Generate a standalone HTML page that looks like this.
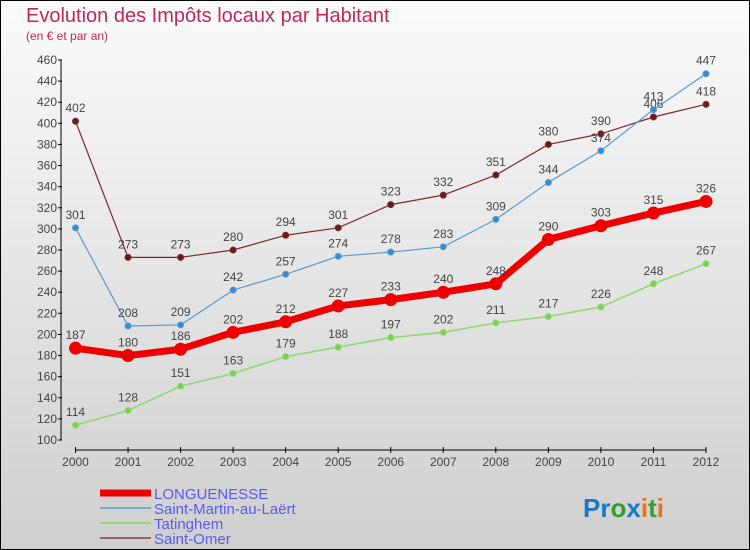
<!DOCTYPE html>
<html><head><meta charset="utf-8"><style>
body{margin:0;}
#wrap{position:relative;width:750px;height:550px;box-sizing:border-box;border:1px solid #000;background:linear-gradient(#fbfbfb,#cfcfcf);font-family:"Liberation Sans",sans-serif;overflow:hidden}
</style></head><body>
<div id="wrap">
<svg id="chart" width="748" height="548" viewBox="1 1 748 548">
<text x="26" y="22" font-size="20" fill="#c0285a">Evolution des Impôts locaux par Habitant</text>
<text x="26" y="40" font-size="12" fill="#c0285a">(en € et par an)</text>
<g id="axes"></g><g id="series"></g>
<g>
<line x1="100" y1="493" x2="151" y2="493" stroke="#e00" stroke-width="7"/>
<text x="154" y="499" font-size="15" fill="#5a5af0">LONGUENESSE</text>
<line x1="100" y1="508" x2="151" y2="508" stroke="#7aaad0" stroke-width="2"/>
<text x="154" y="514" font-size="15" fill="#5a5af0">Saint-Martin-au-Laërt</text>
<line x1="100" y1="523" x2="151" y2="523" stroke="#90d870" stroke-width="2"/>
<text x="154" y="529" font-size="15" fill="#5a5af0">Tatinghem</text>
<line x1="100" y1="538" x2="151" y2="538" stroke="#9a6060" stroke-width="2"/>
<text x="154" y="544" font-size="15" fill="#5a5af0">Saint-Omer</text>
</g>
<text x="583" y="517" font-size="26" font-weight="bold"><tspan fill="#1a78c8">Pr</tspan><tspan fill="#30a030">o</tspan><tspan fill="#1a78c8">x</tspan><tspan fill="#f07010">i</tspan><tspan fill="#30a030">t</tspan><tspan fill="#f07010">i</tspan></text>
</svg>
</div>
<script>
const years=[2000,2001,2002,2003,2004,2005,2006,2007,2008,2009,2010,2011,2012];
const yTicks=[100,120,140,160,180,200,220,240,260,280,300,320,340,360,380,400,420,440,460];
const longuenesse=[187,180,186,202,212,227,233,240,248,290,303,315,326];
const saintMartin=[301,208,209,242,257,274,278,283,309,344,374,413,447];
const tatinghem=[114,128,151,163,179,188,197,202,211,217,226,248,267];
const saintOmer=[402,273,273,280,294,301,323,332,351,380,390,406,418];
const NS="http://www.w3.org/2000/svg";
function xS(i){return 75.5+i*(706-75.5)/(years.length-1);}
function yS(v){return 440-(v-100)*(380/360);}
function mk(tag,attrs,parent){const e=document.createElementNS(NS,tag);for(const k in attrs)e.setAttribute(k,attrs[k]);parent.appendChild(e);return e;}
const ax=document.getElementById('axes');
let a=mk('line',{x1:61,y1:60,x2:61,y2:440,stroke:'#000'},ax);


a=mk('line',{x1:75.5,y1:450,x2:706,y2:450,stroke:'#000'},ax);


yTicks.forEach(v=>{
  const t=mk('line',{x1:58,y1:yS(v),x2:62,y2:yS(v),stroke:'#000'},ax);
  
  
  const l=mk('text',{x:57,y:yS(v)+4,'font-size':12,fill:'#444','text-anchor':'end'},ax);
  l.textContent=v;
  
  
});
years.forEach((yr,i)=>{
  const t=mk('line',{x1:xS(i),y1:447,x2:xS(i),y2:453,stroke:'#000'},ax);
  
  
  const l=mk('text',{x:xS(i),y:466,'font-size':12,fill:'#444','text-anchor':'middle'},ax);
  l.textContent=yr;
  
  
});
const sg=document.getElementById('series');
function draw(vals,color,fill,w,r,name){
  const g=mk('g',{},sg);
  
  
  const p=mk('polyline',{points:vals.map((v,i)=>xS(i)+','+yS(v)).join(' '),fill:'none',stroke:color,'stroke-width':w,'stroke-linejoin':'round'},g);
  
  
  vals.forEach((v,i)=>{
    const c=mk('circle',{cx:xS(i),cy:yS(v),r:r,fill:fill,stroke:color,'stroke-width':1},g);
    
    
    const t=mk('text',{x:xS(i),y:yS(v)-9,'font-size':12,fill:'#444','text-anchor':'middle'},g);
    t.textContent=v;
    
    
  });
}
draw(saintOmer,'#7a2a2a','#6a1a1a',1.2,3,'saint-omer');
draw(saintMartin,'#5a9ad0','#3a8ad0',1.2,3,'saint-martin');
draw(tatinghem,'#90d870','#7cd050',1.5,3,'tatinghem');
draw(longuenesse,'#ee0000','#ee0000',7,6,'longuenesse');
</script>
</body></html>
